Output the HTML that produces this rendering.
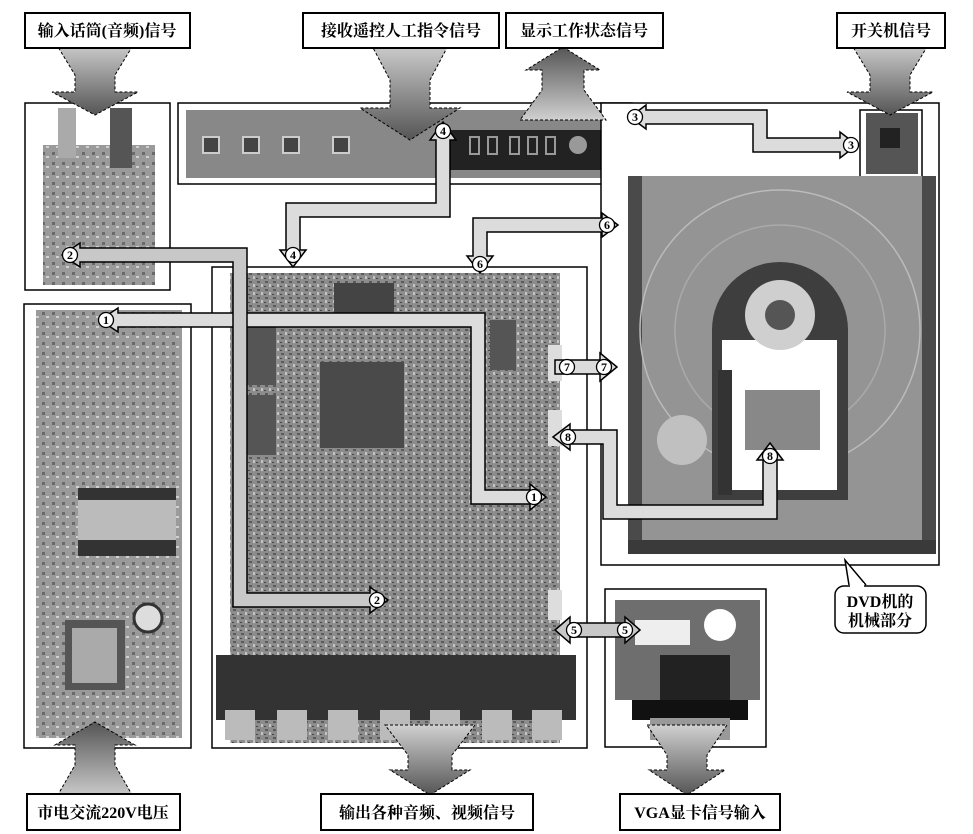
<!DOCTYPE html>
<html><head><meta charset="utf-8"><style>
html,body{margin:0;padding:0;background:#fff;}
svg{display:block}
.lb{font-family:"Liberation Serif","Noto Serif CJK SC","Noto Sans CJK SC",serif;font-weight:bold;font-size:16px;fill:#000;}
.n{font-family:"Liberation Serif",serif;font-weight:bold;font-size:12px;fill:#000;text-anchor:middle;}
</style></head><body>
<svg width="973" height="834" viewBox="0 0 973 834" xmlns="http://www.w3.org/2000/svg">
<defs>
<linearGradient id="gv" x1="0" y1="0" x2="0" y2="1"><stop offset="0" stop-color="#d0d0d0"/><stop offset="1" stop-color="#555"/></linearGradient>
<linearGradient id="gu" x1="0" y1="1" x2="0" y2="0"><stop offset="0" stop-color="#d0d0d0"/><stop offset="1" stop-color="#555"/></linearGradient>
<pattern id="pcb" width="8" height="8" patternUnits="userSpaceOnUse"><rect width="8" height="8" fill="#8c8c8c"/><rect x="1" y="1" width="3" height="2" fill="#5a5a5a"/><rect x="5" y="4" width="2" height="3" fill="#c4c4c4"/><rect x="0" y="6" width="2" height="1" fill="#444"/></pattern>
<pattern id="pcb2" width="10" height="10" patternUnits="userSpaceOnUse"><rect width="10" height="10" fill="#9a9a9a"/><rect x="2" y="2" width="3" height="3" fill="#6a6a6a"/><rect x="6" y="6" width="3" height="2" fill="#d0d0d0"/></pattern>
</defs>

<rect x="25" y="103" width="145" height="187" fill="#fff" stroke="#000" stroke-width="1.5"/>
<rect x="43" y="145" width="112" height="140" fill="url(#pcb2)"/>
<rect x="58" y="108" width="18" height="50" fill="#aaa"/><rect x="110" y="108" width="22" height="60" fill="#555"/>

<rect x="24" y="304" width="167" height="444" fill="#fff" stroke="#000" stroke-width="1.5"/>
<rect x="36" y="310" width="146" height="428" fill="url(#pcb2)"/>
<rect x="78" y="488" width="98" height="68" fill="#333"/><rect x="78" y="500" width="98" height="40" fill="#bbb"/>
<rect x="65" y="620" width="60" height="70" fill="#555"/><rect x="72" y="628" width="45" height="55" fill="#aaa"/>
<circle cx="148" cy="618" r="14" fill="#ddd" stroke="#333" stroke-width="3"/>

<rect x="178" y="103" width="454" height="81" fill="#fff" stroke="#000" stroke-width="1.5"/>
<rect x="186" y="110" width="440" height="68" fill="#888"/>
<rect x="445" y="130" width="160" height="40" fill="#222"/>
<g fill="none" stroke="#999" stroke-width="2"><rect x="470" y="137" width="9" height="17"/><rect x="488" y="137" width="9" height="17"/><rect x="510" y="137" width="9" height="17"/><rect x="528" y="137" width="9" height="17"/><rect x="546" y="137" width="9" height="17"/></g>
<circle cx="578" cy="145" r="9" fill="#999"/>
<g fill="#444" stroke="#ccc" stroke-width="2"><rect x="203" y="137" width="16" height="16"/><rect x="243" y="137" width="16" height="16"/><rect x="283" y="137" width="16" height="16"/><rect x="333" y="137" width="16" height="16"/></g>

<rect x="601" y="103" width="338" height="462" fill="#fff" stroke="#000" stroke-width="1.5"/>
<rect x="860" y="110" width="62" height="67" fill="#fff" stroke="#000" stroke-width="1.5"/>
<rect x="866" y="113" width="52" height="61" fill="#555"/><rect x="880" y="128" width="20" height="20" fill="#222"/>
<path d="M628 176 H936 V552 H628 Z" fill="#949494"/>
<rect x="628" y="176" width="14" height="376" fill="#4a4a4a"/><rect x="922" y="176" width="14" height="376" fill="#4a4a4a"/>
<rect x="628" y="540" width="308" height="14" fill="#3a3a3a"/>
<circle cx="780" cy="330" r="140" fill="none" stroke="#bbb" stroke-width="1.5"/>
<circle cx="780" cy="330" r="105" fill="none" stroke="#aaa" stroke-width="1.5"/>
<path d="M712 500 V330 A68 68 0 0 1 848 330 V500 Z" fill="#3e3e3e"/>
<rect x="722" y="340" width="115" height="150" fill="#fff"/>
<circle cx="780" cy="315" r="35" fill="#cfcfcf"/><circle cx="780" cy="315" r="15" fill="#555"/>
<rect x="745" y="390" width="75" height="60" fill="#888"/>
<rect x="718" y="370" width="14" height="125" fill="#333"/>
<circle cx="682" cy="440" r="25" fill="#c0c0c0"/>

<rect x="212" y="267" width="375" height="481" fill="#fff" stroke="#000" stroke-width="1.5"/>
<rect x="230" y="273" width="330" height="470" fill="url(#pcb)"/>
<rect x="320" y="362" width="84" height="86" fill="#4a4a4a"/>
<rect x="334" y="283" width="60" height="36" fill="#444"/>
<rect x="246" y="315" width="30" height="70" fill="#555"/><rect x="246" y="395" width="30" height="60" fill="#555"/>
<rect x="490" y="320" width="26" height="50" fill="#555"/>
<rect x="548" y="345" width="14" height="36" fill="#ddd"/><rect x="548" y="410" width="14" height="36" fill="#ddd"/><rect x="548" y="590" width="14" height="30" fill="#ddd"/>
<rect x="216" y="655" width="360" height="65" fill="#333"/>
<g fill="#bbb"><rect x="225" y="710" width="30" height="30"/><rect x="277" y="710" width="30" height="30"/><rect x="328" y="710" width="30" height="30"/><rect x="380" y="710" width="30" height="30"/><rect x="430" y="710" width="30" height="30"/><rect x="482" y="710" width="30" height="30"/><rect x="532" y="710" width="30" height="30"/></g>

<rect x="605" y="589" width="161" height="158" fill="#fff" stroke="#000" stroke-width="1.5"/>
<rect x="615" y="600" width="145" height="100" fill="#6e6e6e"/>
<rect x="635" y="620" width="55" height="25" fill="#eee"/>
<circle cx="720" cy="625" r="16" fill="#fff"/>
<rect x="660" y="655" width="70" height="55" fill="#222"/><rect x="632" y="700" width="116" height="20" fill="#111"/>
<rect x="650" y="718" width="80" height="22" fill="#999"/>

<path d="M845 560 L860 586" stroke="#000" stroke-width="1.5"/>
<rect x="835" y="586" width="91" height="47" rx="9" fill="#fff" stroke="#000" stroke-width="1.5"/>
<path d="M849 585 L845 560 L866 585" fill="#fff" stroke="#000" stroke-width="1.5"/>
<rect x="850" y="583" width="14" height="5" fill="#fff"/>
<text class="lb" x="880" y="607" text-anchor="middle">DVD机的</text>
<text class="lb" x="880" y="626" text-anchor="middle">机械部分</text>

<g fill="#dcdcdc" stroke="#000" stroke-width="1.5" stroke-linejoin="miter">
<path d="M100 320 L118 308 V313 H485 V490 H530 V484 L546 497 L530 510 V504 H471 V327 H118 V332 Z"/>
<path d="M62 255 L80 243 V248 H247 V593 H370 V587 L388 600 L370 613 V607 H233 V262 H80 V267 Z" fill="#c8c8c8"/>
<path d="M630 117 L646 105 V110 H767 V138 H840 V132 L857 145 L840 158 V152 H753 V124 H646 V129 Z"/>
<path d="M443 122 L456 140 H450 V217 H300 V250 H306 L293 267 L280 250 H286 V203 H436 V140 H430 Z"/>
<path d="M618 225 L602 213 V218 H473 V256 H467 L480 273 L493 256 H487 V232 H602 V237 Z"/>
<path d="M555 360 H600 V353 L617 367 L600 381 V374 H555 Z"/>
<path d="M553 437 L570 424 V430 H617 V505 H763 V460 H757 L770 443 L783 460 H777 V519 H603 V444 H570 V450 Z"/>
<path d="M555 630 L570 617 V623 H625 V617 L640 630 L625 643 V637 H570 V643 Z" fill="#c8c8c8"/>
</g>
<g fill="#fff" stroke="#000" stroke-width="1.3">
<circle cx="106" cy="320" r="7.5"/><circle cx="534" cy="497" r="7.5"/>
<circle cx="70" cy="255" r="7.5"/><circle cx="377" cy="600" r="7.5"/>
<circle cx="635" cy="117" r="7.5"/><circle cx="851" cy="145" r="7.5"/>
<circle cx="443" cy="131" r="7.5"/><circle cx="293" cy="255" r="7.5"/>
<circle cx="607" cy="225" r="7.5"/><circle cx="480" cy="264" r="7.5"/>
<circle cx="567" cy="367" r="7.5"/><circle cx="604" cy="367" r="7.5"/>
<circle cx="568" cy="437" r="7.5"/><circle cx="770" cy="456" r="7.5"/>
<circle cx="574" cy="630" r="7.5"/><circle cx="625" cy="630" r="7.5"/>
</g>
<g class="n">
<text x="106" y="324">1</text><text x="534" y="501">1</text>
<text x="70" y="259">2</text><text x="377" y="604">2</text>
<text x="635" y="121">3</text><text x="851" y="149">3</text>
<text x="443" y="135">4</text><text x="293" y="259">4</text>
<text x="607" y="229">6</text><text x="480" y="268">6</text>
<text x="567" y="371">7</text><text x="604" y="371">7</text>
<text x="568" y="441">8</text><text x="770" y="460">8</text>
<text x="574" y="634">5</text><text x="625" y="634">5</text>
</g>

<g stroke="#000" stroke-width="1" stroke-dasharray="3,2">
<path d="M55 42 L135 42 L115 75 V92 H138 L95 115 L52 92 H75 V75 Z" fill="url(#gv)"/>
<path d="M370 42 L450 42 L430 80 V108 H460 L410 140 L360 108 H390 V80 Z" fill="url(#gv)"/>
<path d="M850 42 L930 42 L910 75 V92 H933 L890 115 L847 92 H870 V75 Z" fill="url(#gv)"/>
<path d="M520 120 L606 120 L584 90 V70 H600 L563 47 L526 70 H542 V90 Z" fill="url(#gu)"/>
<path d="M55 800 L135 800 L115 765 V745 H135 L95 722 L55 745 H75 V765 Z" fill="url(#gu)"/>
<path d="M385 725 L475 725 L452 755 V770 H470 L430 795 L390 770 H408 V755 Z" fill="url(#gv)"/>
<path d="M647 725 L727 725 L707 755 V770 H725 L687 795 L649 770 H667 V755 Z" fill="url(#gv)"/>
</g>

<g fill="#fff" stroke="#000" stroke-width="2">
<rect x="25" y="13" width="165" height="35"/>
<rect x="303" y="13" width="196" height="35"/>
<rect x="506" y="13" width="157" height="35"/>
<rect x="837" y="13" width="108" height="35"/>
<rect x="27" y="794" width="153" height="36"/>
<rect x="321" y="794" width="212" height="36"/>
<rect x="620" y="794" width="160" height="36"/>
</g>
<g class="lb" text-anchor="middle">
<text x="107" y="36">输入话筒(音频)信号</text>
<text x="401" y="36">接收遥控人工指令信号</text>
<text x="584" y="36">显示工作状态信号</text>
<text x="891" y="36">开关机信号</text>
<text x="103" y="818">市电交流220V电压</text>
<text x="427" y="818">输出各种音频、视频信号</text>
<text x="700" y="818">VGA显卡信号输入</text>
</g>
</svg>
</body></html>
